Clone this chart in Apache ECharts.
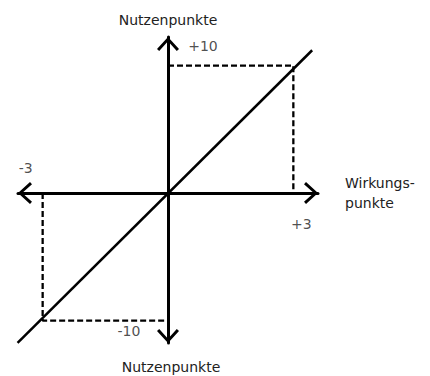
<!DOCTYPE html>
<html>
<head>
<meta charset="utf-8">
<script src="https://cdn.jsdelivr.net/npm/echarts@6/dist/echarts.min.js"></script>
<style>
  html, body { margin: 0; padding: 0; background: #fff; }
  #chart { width: 430px; height: 376px; }
</style>
</head>
<body>
<div id="chart"></div>
<script>
// diagonal line (Nutzen vs Wirkung)
const lineX = [-3.6, 3.45];
const lineY = [-11.75, 11.2];
// dashed guides to +3/+10 and -3/-10
const upperGuideX = [0, 3, 3];
const upperGuideY = [10, 10, 0];
const lowerGuideX = [-3, -3, 0];
const lowerGuideY = [0, -10, -10];
// tick labels and where they belong
const tickLabels = ["+10", "-10", "+3", "-3"];
const tickX = [0, 0, 3, -3];
const tickY = [10, -10, 0, 0];
const labelOffsets = [[35, -20], [-39, 10], [8, 31], [-17, -25]];

const FONT = "DejaVu Sans";
const TEXT = "#222";
const chevron = "path://M0,12L11,0L22,12L19.8,14L11,4.2L2.2,14Z";

const zip = (xs, ys) => xs.map((x, i) => [x, ys[i]]);

const axisLine = {
  show: true,
  onZero: true,
  symbol: [chevron, chevron],
  symbolSize: [22, 14],
  symbolOffset: [7, -7],
  lineStyle: { color: "#000", width: 3 },
};

const chart = echarts.init(document.getElementById("chart"), null, { renderer: "svg" });
chart.setOption({
  animation: false,
  grid: { left: 18, width: 300, top: 37, height: 306 },
  xAxis: {
    type: "value",
    min: -3.59,
    max: 3.59,
    axisLine,
    axisTick: { show: false },
    axisLabel: { show: false },
    splitLine: { show: false },
    name: "Wirkungs-\npunkte",
    nameLocation: "end",
    nameGap: 27,
    nameTextStyle: { fontFamily: FONT, fontSize: 14, color: TEXT, lineHeight: 20, align: "left" },
  },
  yAxis: {
    type: "value",
    min: -11.76,
    max: 12.24,
    axisLine,
    axisTick: { show: false },
    axisLabel: { show: false },
    splitLine: { show: false },
    name: "Nutzenpunkte",
    nameLocation: "end",
    nameGap: 9,
    nameTextStyle: { fontFamily: FONT, fontSize: 14, color: TEXT, lineHeight: 16 },
  },
  graphic: [
    {
      type: "text",
      x: 171,
      y: 367,
      style: {
        text: "Nutzenpunkte",
        font: "14px " + FONT,
        fill: TEXT,
        textAlign: "center",
        textVerticalAlign: "middle",
      },
    },
  ],
  series: [
    {
      type: "line",
      data: zip(lineX, lineY),
      symbol: "none",
      clip: false,
      lineStyle: { color: "#000", width: 2.5 },
    },
    {
      type: "line",
      data: zip(upperGuideX, upperGuideY),
      symbol: "none",
      lineStyle: { color: "#000", width: 2.3, type: [6, 3] },
    },
    {
      type: "line",
      data: zip(lowerGuideX, lowerGuideY),
      symbol: "none",
      lineStyle: { color: "#000", width: 2.3, type: [6, 3] },
    },
    {
      type: "scatter",
      symbolSize: 0,
      data: tickLabels.map((t, i) => ({
        value: [tickX[i], tickY[i]],
        label: { offset: labelOffsets[i] },
      })),
      label: {
        show: true,
        position: "inside",
        formatter: (p) => tickLabels[p.dataIndex],
        fontFamily: FONT,
        fontSize: 14,
        color: TEXT,
        align: "center",
        verticalAlign: "middle",
      },
    },
  ],
});
</script>
</body>
</html>
